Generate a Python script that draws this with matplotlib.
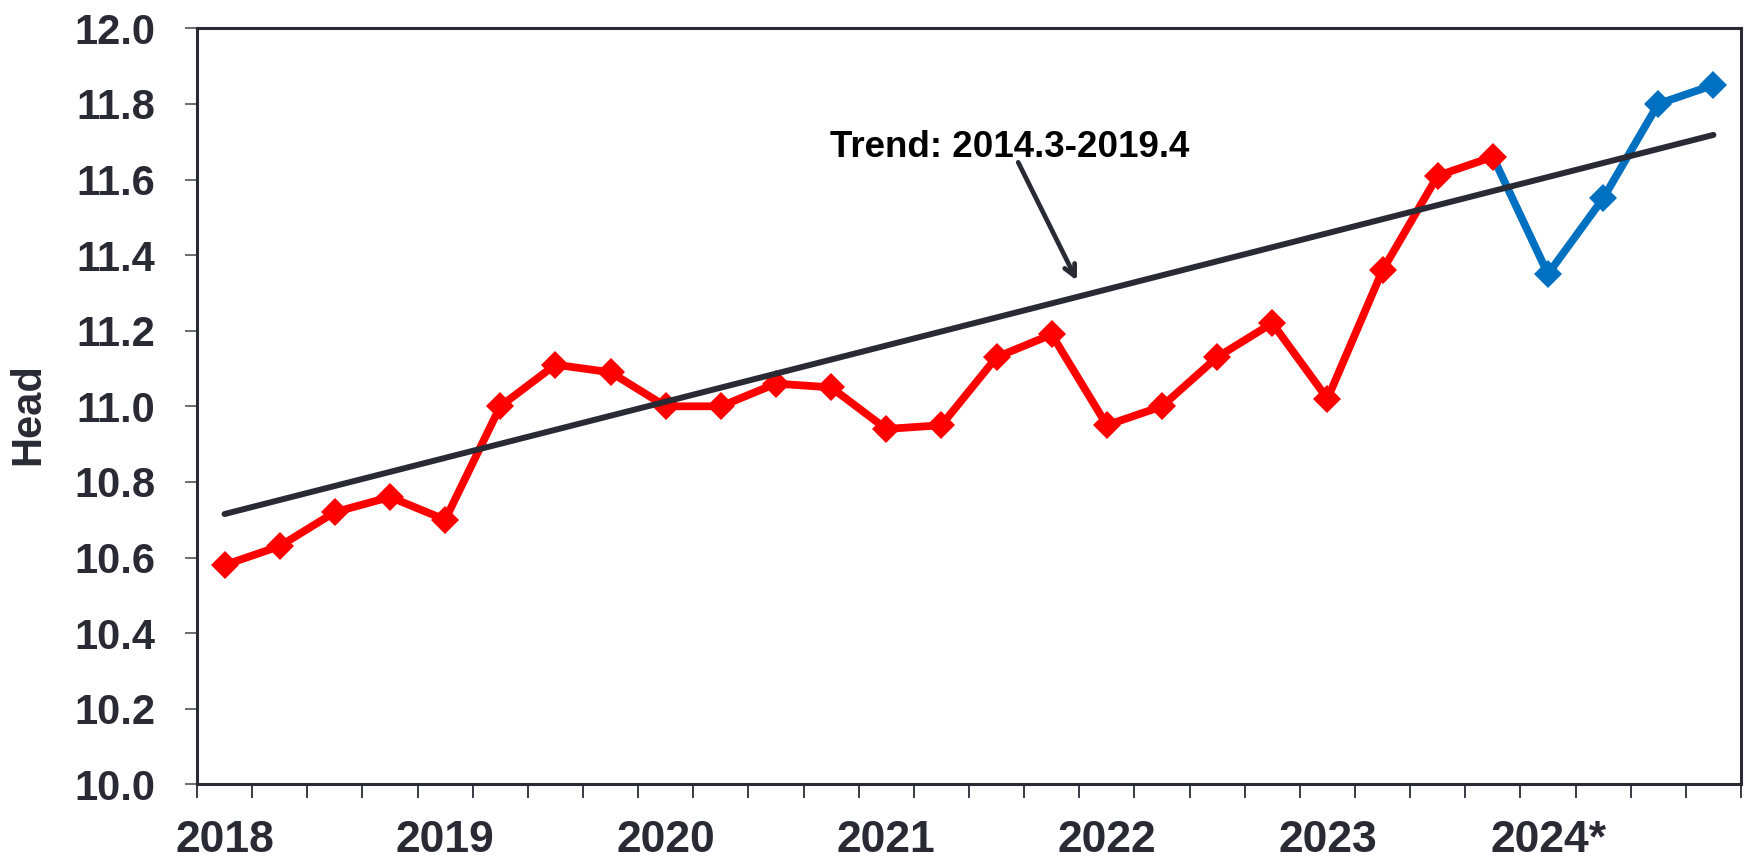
import numpy as np
import matplotlib
matplotlib.use('Agg')
import matplotlib.pyplot as plt

# quarterly values, 2018Q1 .. 2023Q4 (red) and 2024Q1 .. 2024Q4 (blue, forecast)
years = ['2018', '2019', '2020', '2021', '2022', '2023', '2024*']
actual = [10.58, 10.63, 10.72, 10.76,
          10.70, 11.00, 11.11, 11.09,
          11.00, 11.00, 11.06, 11.05,
          10.94, 10.95, 11.13, 11.19,
          10.95, 11.00, 11.13, 11.22,
          11.02, 11.36, 11.61, 11.66]
forecast = [11.35, 11.55, 11.80, 11.85]
# trend line end values (first and last quarter)
trend_start = 10.715
trend_end = 11.718
trend_label = 'Trend: 2014.3-2019.4'

dark = '#2a2a35'
plt.rcParams['font.family'] = 'Liberation Sans'
plt.rcParams['font.weight'] = 'bold'

fig = plt.figure(figsize=(17.44, 8.59), dpi=100)
ax = fig.add_axes([197/1744, 1 - 784.3/859, (1741-197)/1744, (784.3-28.3)/859])

n_act = len(actual)
n_all = n_act + len(forecast)
x_act = np.arange(n_act)
x_fc = np.arange(n_act - 1, n_all)
y_fc = [actual[-1]] + forecast

# blue forecast line (starts at last actual point), markers only on forecast points
ax.plot(x_fc, y_fc, color='#0070c0', lw=5.6, marker='D', ms=14.5, mew=0,
        markevery=list(range(1, len(y_fc))), zorder=2)
ax.plot(x_act, actual, color='#ff0000', lw=5.6, marker='D', ms=14.5, mew=0,
        zorder=3)
ax.plot([0, n_all - 1], [trend_start, trend_end], color=dark, lw=4.3,
        solid_capstyle='round', zorder=4)

# annotation
ax.annotate('', xy=(15.48, 11.326), xytext=(14.37, 11.652),
            arrowprops=dict(arrowstyle='->,head_length=0.8,head_width=0.4',
                            color=dark, lw=3.4), zorder=5)
ax.text(14.24, 11.66, trend_label, ha='center', va='baseline',
        fontsize=26.5, fontweight='bold', color='black')

ax.set_xlim(-0.5, n_all - 0.5)
ax.set_ylim(10.0, 12.0)

ax.set_yticks(np.arange(10.0, 12.01, 0.2))
ax.set_yticklabels(['{:.1f}'.format(v) for v in np.arange(10.0, 12.01, 0.2)])
ax.tick_params(axis='y', length=8.6, width=1.4, color='#6a6a72', pad=21.6,
               labelsize=30, labelcolor=dark)

# quarter boundaries as major ticks, year labels centred on Q1
ax.set_xticks(np.arange(-0.5, n_all, 1.0))
ax.set_xticklabels([])
ax.tick_params(axis='x', which='major', length=10, width=1.4, color='#3a3a44')
ax.set_xticks(np.arange(0, n_all, 4), minor=True)
ax.set_xticklabels(years, minor=True)
ax.tick_params(axis='x', which='minor', length=0, pad=26, labelsize=32,
               labelcolor=dark)

for s in ax.spines.values():
    s.set_color(dark)
    s.set_linewidth(2.2)

fig.text(28/1744, 1 - 414/859, 'Head', rotation=90, ha='center', va='center',
         fontsize=30, fontweight='bold', color=dark)

fig.savefig('out.png', dpi=100)
